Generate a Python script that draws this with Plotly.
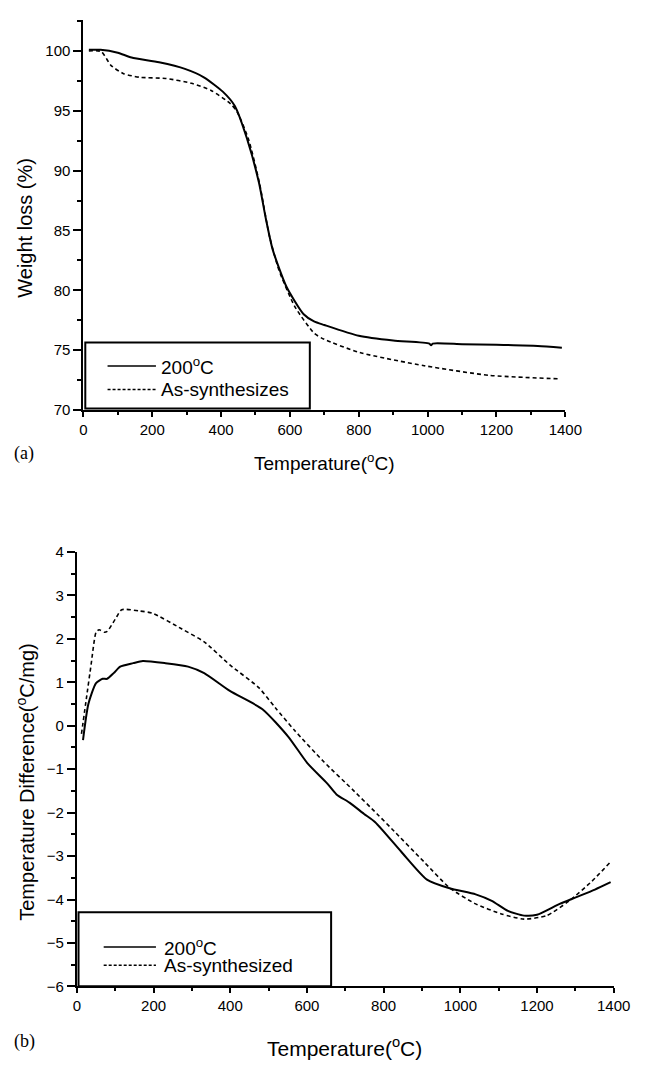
import plotly.graph_objects as go

# ---- (a) TGA data ----
ta_200 = [16, 50, 100, 140, 220, 295, 350, 405, 440, 475, 510, 530, 550, 590, 640, 670, 700, 800, 900, 1005, 1010, 1015, 1100, 1200, 1320, 1390]
wa_200 = [100.1, 100.1, 99.85, 99.45, 99.05, 98.5, 97.8, 96.6, 95.4, 92.7, 89.0, 86.0, 83.4, 80.3, 78.0, 77.4, 77.1, 76.2, 75.8, 75.55, 75.4, 75.55, 75.5, 75.45, 75.35, 75.2]
ta_as = [16, 52, 80, 117, 164, 239, 314, 371, 427, 446, 480, 512, 540, 568, 615, 671, 700, 803, 990, 1178, 1385]
wa_as = [100.0, 99.95, 98.8, 98.1, 97.8, 97.7, 97.3, 96.7, 95.6, 94.95, 92.6, 88.9, 84.6, 81.7, 78.6, 76.4, 75.9, 74.8, 73.7, 72.9, 72.6]

# ---- (b) DTA data ----
tb_200 = [16, 30, 50, 67, 79, 96, 113, 147, 172, 231, 290, 332, 399, 484, 551, 601, 652, 677, 711, 749, 778, 846, 913, 972, 1040, 1082, 1124, 1166, 1200, 1259, 1301, 1351, 1392]
db_200 = [-0.33, 0.5, 0.98, 1.08, 1.08, 1.21, 1.36, 1.44, 1.49, 1.44, 1.36, 1.21, 0.8, 0.38, -0.25, -0.86, -1.32, -1.58, -1.77, -2.03, -2.22, -2.9, -3.54, -3.74, -3.88, -4.03, -4.26, -4.37, -4.35, -4.1, -3.95, -3.77, -3.6]
tb_as = [12, 25, 37, 50, 58, 71, 79, 100, 117, 164, 197, 273, 332, 399, 475, 517, 568, 644, 719, 783, 821, 905, 972, 1040, 1107, 1166, 1225, 1284, 1343, 1389]
db_as = [-0.19, 0.64, 1.4, 2.15, 2.21, 2.15, 2.17, 2.45, 2.67, 2.64, 2.59, 2.23, 1.93, 1.4, 0.87, 0.42, -0.11, -0.83, -1.47, -2.03, -2.37, -3.13, -3.73, -4.1, -4.33, -4.45, -4.37, -4.03, -3.58, -3.16]

legend_a = ["200<sup>o</sup>C", "As-synthesizes"]
legend_b = ["200<sup>o</sup>C", "As-synthesized"]

W, H = 652, 1066
def px(x): return x / W
def py(y): return 1 - y / H

FONT = "Liberation Sans, Arial, sans-serif"
SERIF = "Liberation Serif, Times New Roman, serif"
DASH = "4px,3px"

fig = go.Figure()
solid = dict(color="black", width=2, shape="spline", smoothing=0.6)
dashed = dict(color="black", width=1.6, dash=DASH, shape="spline", smoothing=0.6)
fig.add_trace(go.Scatter(x=ta_200, y=wa_200, mode="lines", line=solid, xaxis="x", yaxis="y", name=legend_a[0], showlegend=False))
fig.add_trace(go.Scatter(x=ta_as, y=wa_as, mode="lines", line=dashed, xaxis="x", yaxis="y", name=legend_a[1], showlegend=False))
fig.add_trace(go.Scatter(x=tb_200, y=db_200, mode="lines", line=solid, xaxis="x2", yaxis="y2", name=legend_b[0], showlegend=False))
fig.add_trace(go.Scatter(x=tb_as, y=db_as, mode="lines", line=dashed, xaxis="x2", yaxis="y2", name=legend_b[1], showlegend=False))

common = dict(showgrid=False, zeroline=False, showline=True, linecolor="black", linewidth=2,
              ticks="outside", tickwidth=1.5, tickcolor="black",
              tickfont=dict(family=FONT, size=15, color="black"), mirror=False)
xcommon = dict(ticklen=5, range=[0, 1400], dtick=200, tick0=0,
               minor=dict(ticks="outside", ticklen=3, dtick=100, tickwidth=1.5, tickcolor="black"), **common)

fig.update_layout(
    width=W, height=H, margin=dict(l=0, r=0, t=0, b=0),
    paper_bgcolor="white", plot_bgcolor="white", showlegend=False,
    xaxis=dict(domain=[px(82), px(580)], anchor="y", **xcommon),
    yaxis=dict(domain=[py(407.5), py(11)], range=[70, 102.6], dtick=5, tick0=70, anchor="x", ticklen=8,
               minor=dict(ticks="outside", ticklen=4, dtick=2.5, tickwidth=1.5, tickcolor="black"), **common),
    xaxis2=dict(domain=[px(75.3), px(630)], anchor="y2", **xcommon),
    yaxis2=dict(domain=[py(993.3), py(551.7)], range=[-6, 4], dtick=1, tick0=-6, anchor="x2", ticklen=8,
                minor=dict(ticks="outside", ticklen=4, dtick=0.5, tickwidth=1.5, tickcolor="black"), **common),
)

shapes = []
annotations = []

def legend(box, y1, y2, xs0, xs1, xt, labels):
    x0, yb0, x1, yb1 = box
    shapes.append(dict(type="rect", xref="paper", yref="paper", x0=px(x0), x1=px(x1), y0=py(yb1), y1=py(yb0),
                       line=dict(color="black", width=2), fillcolor="white", layer="above"))
    shapes.append(dict(type="line", xref="paper", yref="paper", x0=px(xs0), x1=px(xs1), y0=py(y1), y1=py(y1),
                       line=dict(color="black", width=1.5)))
    shapes.append(dict(type="line", xref="paper", yref="paper", x0=px(xs0), x1=px(xs1), y0=py(y2), y1=py(y2),
                       line=dict(color="black", width=1.5, dash="3px,2px")))
    for lab, yy in zip(labels, [y1, y2]):
        annotations.append(dict(text=lab, xref="paper", yref="paper", x=px(xt), y=py(yy), xanchor="left", yanchor="middle",
                                showarrow=False, font=dict(family=FONT, size=19, color="black")))

legend((84, 339, 316, 406), 362.7, 386.7, 107, 157, 160, legend_a)
legend((77, 918, 338, 993), 953.3, 971.7, 103, 157, 163, legend_b)

def ann(text, x, y, size=19, angle=0, family=FONT, xanchor="center"):
    annotations.append(dict(text=text, xref="paper", yref="paper", x=px(x), y=py(y), xanchor=xanchor, yanchor="middle",
                            textangle=angle, showarrow=False, font=dict(family=family, size=size, color="black")))

ann("Weight loss (%)", 22, 222, size=20, angle=-90)
ann("Temperature(<sup>o</sup>C)", 331, 460, size=19)
ann("(a)", 8, 452, size=18, family=SERIF, xanchor="left")
ann("Temperature Difference(<sup>o</sup>C/mg)", 22, 785, size=20, angle=-90)
ann("Temperature(<sup>o</sup>C)", 352, 1055, size=21)
ann("(b)", 8, 1049, size=18, family=SERIF, xanchor="left")

fig.update_layout(shapes=shapes, annotations=annotations)
fig.write_html("out.html")
